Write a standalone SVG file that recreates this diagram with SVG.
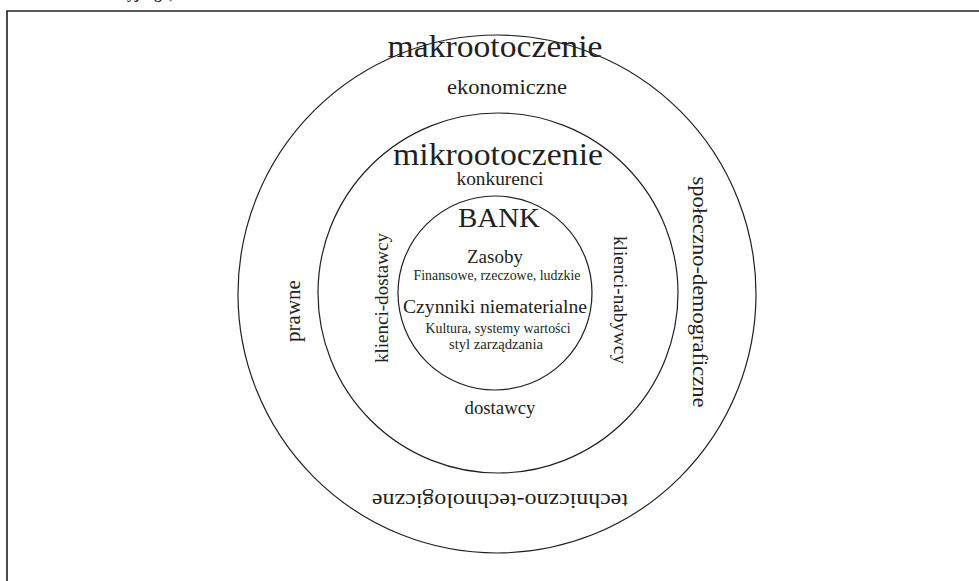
<svg xmlns="http://www.w3.org/2000/svg" width="979" height="581" viewBox="0 0 979 581">
<style>
text{font-family:"Liberation Serif","DejaVu Serif",serif;fill:#231f20;text-anchor:middle}
.ring{fill:none;stroke:#231f20;stroke-width:1.2}
.frame{fill:none;stroke:#231f20;stroke-width:1.6}
</style>
<rect width="979" height="581" fill="#fff"/>
<text x="150" y="-1" style="font-size:15px;font-weight:bold">yjnego,</text>
<path class="frame" d="M7,581 V11 H979"/>
<g id="makrootoczenie">
<circle class="ring" cx="497" cy="294" r="259"/>
<text x="495" y="57" style="font-size:32px" textLength="215" lengthAdjust="spacingAndGlyphs">makrootoczenie</text>
<text x="507" y="94" style="font-size:21px" textLength="120" lengthAdjust="spacingAndGlyphs">ekonomiczne</text>
<text transform="translate(300,311) rotate(-90)" style="font-size:21px">prawne</text>
<text transform="translate(693,292) rotate(90)" style="font-size:21px" textLength="231" lengthAdjust="spacingAndGlyphs">społeczno-demograficzne</text>
<text transform="translate(500,494) rotate(180)" style="font-size:22px" textLength="256" lengthAdjust="spacingAndGlyphs">techniczno-technologiczne</text>
</g>
<g id="mikrootoczenie">
<circle class="ring" cx="498" cy="293" r="180"/>
<text x="498" y="165" style="font-size:32px" textLength="210" lengthAdjust="spacingAndGlyphs">mikrootoczenie</text>
<text x="500" y="185" style="font-size:19px" textLength="87" lengthAdjust="spacingAndGlyphs">konkurenci</text>
<text transform="translate(388,298) rotate(-90)" style="font-size:19px" textLength="130" lengthAdjust="spacingAndGlyphs">klienci-dostawcy</text>
<text transform="translate(614,300) rotate(90)" style="font-size:19px" textLength="128" lengthAdjust="spacingAndGlyphs">klienci-nabywcy</text>
<text x="500" y="414" style="font-size:19px" textLength="71" lengthAdjust="spacingAndGlyphs">dostawcy</text>
</g>
<g id="bank">
<circle class="ring" cx="495" cy="293" r="97"/>
<text x="499" y="227" style="font-size:28px" textLength="82" lengthAdjust="spacingAndGlyphs">BANK</text>
<text x="495" y="263" style="font-size:19px" textLength="56" lengthAdjust="spacingAndGlyphs">Zasoby</text>
<text x="497" y="280" style="font-size:14px" textLength="167" lengthAdjust="spacingAndGlyphs">Finansowe, rzeczowe, ludzkie</text>
<text x="495" y="313" style="font-size:19px" textLength="184" lengthAdjust="spacingAndGlyphs">Czynniki niematerialne</text>
<text x="498" y="333" style="font-size:14px" textLength="145" lengthAdjust="spacingAndGlyphs">Kultura, systemy wartości</text>
<text x="496" y="349" style="font-size:14px" textLength="94" lengthAdjust="spacingAndGlyphs">styl zarządzania</text>
</g>
</svg>
